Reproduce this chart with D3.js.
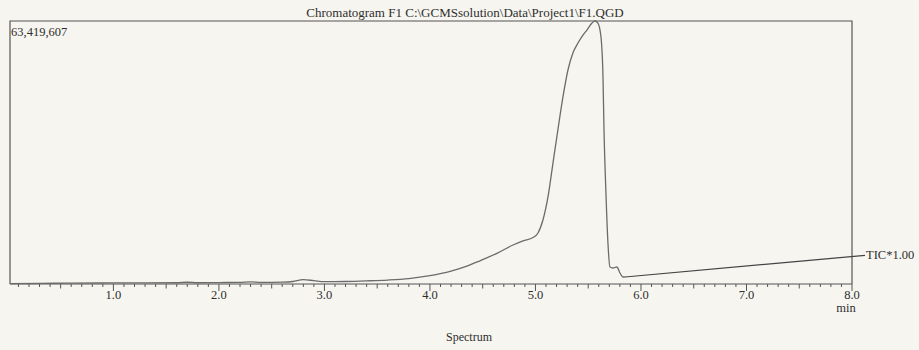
<!DOCTYPE html>
<html>
<head>
<meta charset="utf-8">
<script src="https://cdn.jsdelivr.net/npm/d3@7/dist/d3.min.js"></script>
<style>
  html, body { margin: 0; padding: 0; background: #f6f5f0; }
  svg { display: block; }
  text { font-family: "Liberation Serif", "DejaVu Serif", serif; fill: #2e2e2e; }
</style>
</head>
<body>
<svg id="chart" width="919" height="350"></svg>
<script>
// Retention time (min) and total ion current (counts) of the F1 run
const retentionTimes = [
  0.02, 0.30, 0.60, 1.00, 1.30, 1.60, 1.70, 1.80, 2.00, 2.20, 2.30, 2.40,
  2.60, 2.70, 2.80, 2.90, 3.00, 3.20, 3.40, 3.60, 3.80, 4.00, 4.20, 4.35,
  4.474, 4.635, 4.787, 4.882, 4.977, 5.024, 5.071, 5.119, 5.166, 5.213,
  5.261, 5.308, 5.355, 5.403, 5.450, 5.488, 5.536, 5.564, 5.592, 5.621,
  5.640, 5.649, 5.668, 5.687, 5.706, 5.734, 5.772, 5.801, 5.829, 5.848
];
const ticIntensity = [
  0.10e6, 0.15e6, 0.20e6, 0.25e6, 0.25e6, 0.30e6, 0.42e6, 0.30e6, 0.35e6, 0.40e6, 0.50e6, 0.40e6,
  0.45e6, 0.60e6, 1.05e6, 0.80e6, 0.55e6, 0.60e6, 0.75e6, 0.95e6, 1.30e6, 2.00e6, 3.10e6, 4.30e6,
  5.60e6, 7.40e6, 9.40e6, 10.40e6, 11.20e6, 12.30e6, 15.43e6, 21.05e6, 29.17e6, 37.24e6,
  45.16e6, 51.60e6, 55.69e6, 58.11e6, 60.03e6, 61.24e6, 62.93e6, 63419607, 62.93e6, 59.55e6,
  49.91e6, 37.85e6, 21.94e6, 9.89e6, 4.10e6, 3.86e6, 4.10e6, 2.65e6, 1.69e6, 1.69e6
];
const majorTicks = [1.0, 2.0, 3.0, 4.0, 5.0, 6.0, 7.0, 8.0];
const maxIntensity = 63419607;
const timeRange = [0.02, 8.0];
const titleText = "Chromatogram F1 C:\\GCMSsolution\\Data\\Project1\\F1.QGD";
const traceLabel = "TIC*1.00";
const traceLabelLevel = 6.9e6;   // height at which the trace label sits

const svg = d3.select("#chart");
const frame = { left: 10, right: 852, top: 21, bottom: 284 };

const x = d3.scaleLinear().domain(timeRange).range([frame.left, frame.right]);
const y = d3.scaleLinear().domain([0, maxIntensity]).range([frame.bottom, frame.top]);

// Title
svg.append("text")
  .attr("x", 465).attr("y", 17)
  .attr("text-anchor", "middle")
  .attr("font-size", 13)
  .text(titleText);

// Plot frame (top, left, right)
svg.append("path")
  .attr("d", `M${frame.left},${frame.bottom}V${frame.top}H${frame.right}V${frame.bottom}`)
  .attr("fill", "none")
  .attr("stroke", "#555")
  .attr("stroke-width", 1.2);

// Full-scale intensity label
svg.append("text")
  .attr("x", frame.left + 1).attr("y", 36)
  .attr("font-size", 12.5)
  .text(d3.format(",")(maxIntensity));

// Time axis: minor ticks every 0.1 min, longer at 0.5, longest at whole minutes
const minorTicks = d3.range(1, 81).map(i => i / 10);
const axisG = svg.append("g");
axisG.append("line")
  .attr("x1", frame.left).attr("x2", frame.right)
  .attr("y1", frame.bottom).attr("y2", frame.bottom)
  .attr("stroke", "#555").attr("stroke-width", 1.2);
axisG.selectAll("line.tick")
  .data(minorTicks)
  .join("line")
  .attr("class", "tick")
  .attr("x1", d => x(d)).attr("x2", d => x(d))
  .attr("y1", frame.bottom)
  .attr("y2", (d, i) => {
    const n = i + 1;
    if (n % 10 === 0) return frame.bottom + 7;
    if (n % 5 === 0) return frame.bottom + 4.5;
    return frame.bottom + 3;
  })
  .attr("stroke", "#555").attr("stroke-width", 1);

axisG.selectAll("text.ticklabel")
  .data(majorTicks)
  .join("text")
  .attr("class", "ticklabel")
  .attr("x", d => x(d))
  .attr("y", frame.bottom + 15)
  .attr("text-anchor", "middle")
  .attr("font-size", 12.5)
  .text(d => d.toFixed(1));

svg.append("text")
  .attr("x", x(8.0) - 6).attr("y", frame.bottom + 28)
  .attr("text-anchor", "middle")
  .attr("font-size", 12.5)
  .text("min");

svg.append("text")
  .attr("x", 469).attr("y", 341)
  .attr("text-anchor", "middle")
  .attr("font-size", 12)
  .text("Spectrum");

// TIC trace
const points = retentionTimes.map((t, i) => [t, ticIntensity[i]]);
const line = d3.line()
  .x(d => x(d[0]))
  .y(d => y(d[1]))
  .curve(d3.curveMonotoneX);

svg.append("path")
  .datum(points)
  .attr("d", line)
  .attr("fill", "none")
  .attr("stroke", "#6b6b6b")
  .attr("stroke-width", 1.3)
  .attr("stroke-linejoin", "round");

// Connector from the trace end to its label
const last = points[points.length - 1];
const labelX = frame.right + 13;
svg.append("line")
  .attr("x1", x(last[0])).attr("y1", y(last[1]))
  .attr("x2", labelX).attr("y2", y(traceLabelLevel))
  .attr("stroke", "#444").attr("stroke-width", 1.2);

svg.append("text")
  .attr("x", labelX + 1).attr("y", y(traceLabelLevel) + 4)
  .attr("font-size", 12.5)
  .text(traceLabel);
</script>
</body>
</html>
